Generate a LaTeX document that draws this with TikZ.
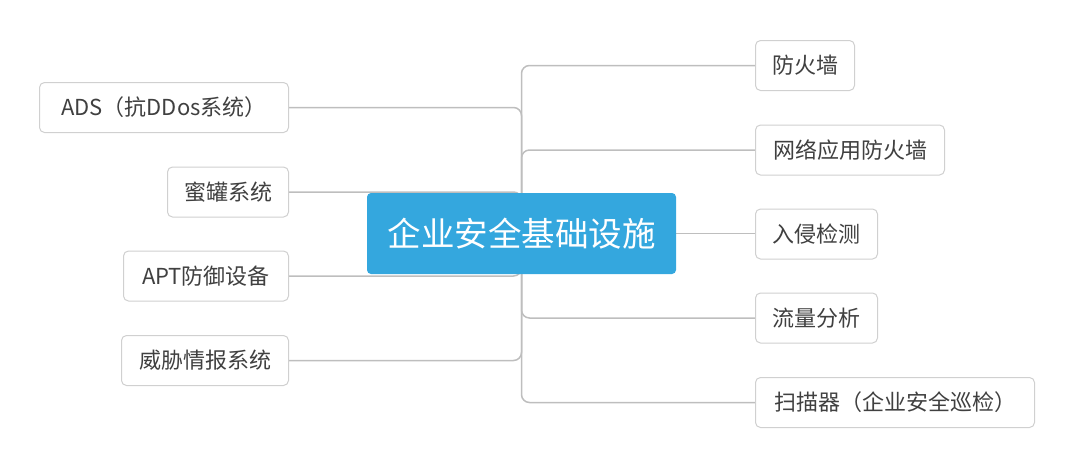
\documentclass[tikz,border=0pt]{standalone}
\usepackage{fontspec}
\setmainfont{Noto Sans CJK SC}
\usetikzlibrary{positioning}
\pgfdeclarelayer{background}
\pgfsetlayers{background,main}
\definecolor{hubblue}{RGB}{52,167,222}
\definecolor{boxline}{RGB}{208,208,208}
\definecolor{connline}{RGB}{190,190,190}
\definecolor{txt}{RGB}{64,64,64}
\tikzset{
  leaf/.style={draw=boxline, line width=1pt, rounded corners=5pt, fill=white,
    minimum height=50pt, inner sep=0pt, text=txt,
    font=\fontsize{22}{26}\selectfont},
  lleaf/.style={leaf, anchor=east},
  rleaf/.style={leaf, anchor=west},
  hub/.style={fill=hubblue, rounded corners=4pt, minimum width=309pt,
    minimum height=81pt, inner sep=0pt, text=white,
    font=\fontsize{33.5}{38}\selectfont},
  conn/.style={draw=connline, line width=1.5pt, rounded corners=8pt}
}
\begin{document}
\begin{tikzpicture}[x=1pt,y=-1pt]
\useasboundingbox (0,0) rectangle (1080,469);
\node[hub] (c) at (521.5,233.5) {企业安全基础设施};
% left
\node[lleaf, minimum width=249pt] (ads) at (289,107.5) {ADS（抗DDos系统）};
\node[lleaf, minimum width=121pt] (hp) at (289,192) {蜜罐系统};
\node[lleaf, minimum width=165pt] (apt) at (289,276) {APT防御设备};
\node[lleaf, minimum width=167pt] (ti) at (289,360.5) {威胁情报系统};
% right
\node[rleaf, minimum width=99pt] (fw) at (755,65.5) {防火墙};
\node[rleaf, minimum width=189pt] (waf) at (755,150) {网络应用防火墙};
\node[rleaf, minimum width=122pt] (ids) at (755,234) {入侵检测};
\node[rleaf, minimum width=122pt] (fa) at (755,318) {流量分析};
\node[rleaf, minimum width=279pt] (sc) at (755,402.5) {扫描器（企业安全巡检）};
\begin{pgfonlayer}{background}
\draw[conn] (ads.east) -| (c.center);
\draw[conn] (hp.east) -| (c.center);
\draw[conn] (apt.east) -| (c.center);
\draw[conn] (ti.east) -| (c.center);
\draw[conn] (c.center) |- (fw.west);
\draw[conn] (c.center) |- (waf.west);
\draw[conn] (c.center) -- (c.center -| ids.west);
\draw[conn] (c.center) |- (fa.west);
\draw[conn] (c.center) |- (sc.west);
\end{pgfonlayer}
\end{tikzpicture}
\end{document}
